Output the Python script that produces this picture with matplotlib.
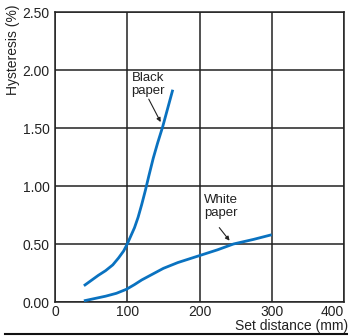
import matplotlib
matplotlib.use("Agg")
import matplotlib.pyplot as plt
from matplotlib.lines import Line2D

plt.rcParams['font.family'] = ['Liberation Sans', 'DejaVu Sans']

black_x = [40, 50, 60, 70, 80, 88, 95, 100, 105, 110, 115, 120, 125, 130, 136, 142, 149, 156, 163]
black_y = [0.14, 0.185, 0.23, 0.27, 0.32, 0.38, 0.44, 0.50, 0.57, 0.64, 0.73, 0.84, 0.96, 1.09, 1.24, 1.37, 1.51, 1.67, 1.83]
white_x = [40, 55, 70, 85, 99, 110, 120, 135, 150, 170, 200, 225, 247, 275, 300]
white_y = [0.01, 0.03, 0.05, 0.075, 0.11, 0.15, 0.19, 0.24, 0.29, 0.34, 0.40, 0.45, 0.50, 0.54, 0.58]
xticks = [0, 100, 200, 300, 400]
yticks = [0.0, 0.5, 1.0, 1.5, 2.0, 2.5]
xlabel = "Set distance (mm)"
ylabel = "Hysteresis (%)"

fig = plt.figure(figsize=(3.48, 3.36), dpi=100)
ax = fig.add_axes([55/348, 1-302/336, (344-55)/348, (302-12)/336])
ax.set_xlim(0, 400)
ax.set_ylim(0, 2.5)
ax.set_xticks(xticks)
ax.set_yticks(yticks)
ax.set_yticklabels([f"{v:.2f}" for v in yticks])
ax.tick_params(length=0, labelsize=10, colors='#222222')
ax.tick_params(axis='x', pad=2)
ax.tick_params(axis='y', pad=4)
xt = ax.get_xticklabels()
xt[-1].set_ha('right')
ax.grid(True, color='#222222', lw=1.1)
ax.set_axisbelow(True)
for s in ax.spines.values():
    s.set_color('#222222')
    s.set_linewidth(1.1)

c = '#0a72c0'
ax.plot(black_x, black_y, color=c, lw=2.0, solid_capstyle='butt', solid_joinstyle='round', zorder=3)
ax.plot(white_x, white_y, color=c, lw=2.0, solid_capstyle='butt', solid_joinstyle='round', zorder=3)

ax.text(106, 1.98, "Black\npaper", fontsize=9.5, va='top', ha='left', color='#222222',
        linespacing=1.05, bbox=dict(facecolor='white', edgecolor='none', pad=1), zorder=4)
ax.annotate("", xy=(148, 1.53), xytext=(128, 1.77),
            arrowprops=dict(arrowstyle='-|>', color='#222222', lw=0.8, mutation_scale=6), zorder=4)
ax.text(206, 0.93, "White\npaper", fontsize=9.5, va='top', ha='left', color='#222222',
        linespacing=1.05, bbox=dict(facecolor='white', edgecolor='none', pad=1), zorder=4)
ax.annotate("", xy=(244, 0.51), xytext=(225, 0.66),
            arrowprops=dict(arrowstyle='-|>', color='#222222', lw=0.8, mutation_scale=6), zorder=4)

fig.text(348/348, 1-326/336, xlabel, ha='right', va='center', fontsize=10, color='#222222')
fig.text(13/348, 1-50/336, ylabel, ha='center', va='center', rotation=90, fontsize=10, color='#222222')
fig.add_artist(Line2D([5/348, 1.0], [1-334/336, 1-334/336], color='#111111', lw=1.5))

fig.savefig("out.png", dpi=100)
